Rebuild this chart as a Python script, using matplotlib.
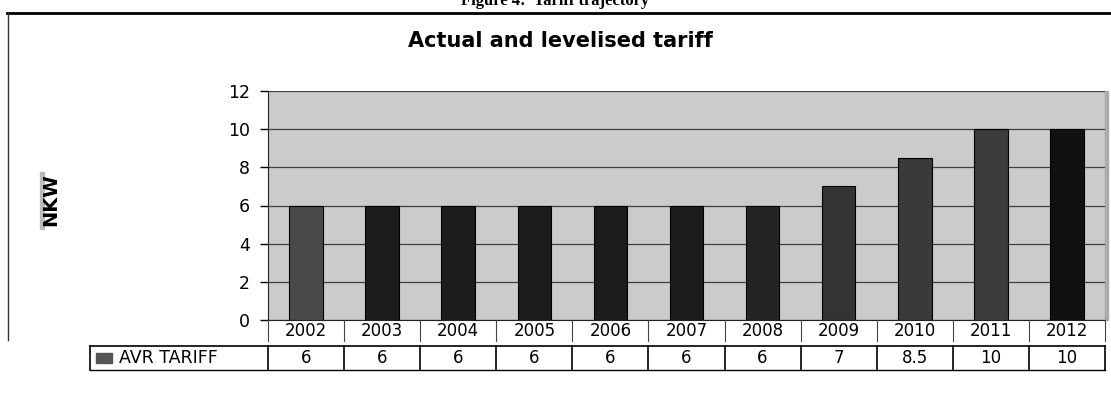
import matplotlib.pyplot as plt
from matplotlib.lines import Line2D
from matplotlib.patches import Rectangle

# dati del grafico
years = ["2002", "2003", "2004", "2005", "2006", "2007", "2008", "2009", "2010", "2011", "2012"]
tariff = [6, 6, 6, 6, 6, 6, 6, 7, 8.5, 10, 10]
table_labels = ["6", "6", "6", "6", "6", "6", "6", "7", "8.5", "10", "10"]
series_name = "AVR TARIFF"
yticks = [0, 2, 4, 6, 8, 10, 12]

bar_colors = ["#4a4a4a", "#1c1c1c", "#1c1c1c", "#1c1c1c", "#1c1c1c", "#1c1c1c",
              "#242424", "#333333", "#3a3a3a", "#3c3c3c", "#111111"]

W, H = 1111, 408
plt.rcParams['font.family'] = ['DejaVu Sans']
fig = plt.figure(figsize=(W / 100, H / 100), dpi=100)

def fx(px):
    return px / W

def fy(py):
    return 1 - py / H

# cornice esterna
fig.add_artist(Line2D([fx(7), fx(1111)], [fy(13), fy(13)], color="black", lw=2.0))
fig.add_artist(Line2D([fx(8), fx(8)], [fy(13), fy(340)], color="#333333", lw=1.0))

# intestazione tagliata in alto
fig.text(0.5, fy(1), "Figure 4:  Tariff trajectory", ha="center", va="center",
         fontsize=12, fontweight="bold", family="Liberation Serif")

fig.text(fx(560), fy(41), "Actual and levelised tariff", ha="center", va="center",
         fontsize=15, fontweight="bold")

# area del grafico
left, right, top, bottom = 268, 1105, 91, 320
ax = fig.add_axes([fx(left), fy(bottom), fx(right - left), (bottom - top) / H])
ax.set_facecolor("#cbcbcb")
x = list(range(len(years)))
ax.bar(x, tariff, width=0.44, color=bar_colors, edgecolor="black", linewidth=0.8, zorder=3)
ax.set_xlim(-0.5, len(years) - 0.5)
ax.set_ylim(0, 12)
ax.set_yticks(yticks)
ax.tick_params(axis="y", direction="out", length=6, width=1, labelsize=12.5, pad=7)
ax.set_xticks([])
ax.grid(axis="y", color="#404040", linewidth=0.9, zorder=1)
for s in ["top", "right"]:
    ax.spines[s].set_visible(False)
ax.spines["left"].set_color("#222222")
ax.spines["bottom"].set_color("#222222")
ax.add_patch(Rectangle((1.0, 0), 0.004, 1, transform=ax.transAxes, color="#aaaaaa",
                       clip_on=False))

# etichetta asse y
fig.add_artist(Rectangle((fx(40), fy(229)), fx(4), 57 / H, color="#bbbbbb"))
fig.text(fx(51), fy(200), "NKW", rotation=90, ha="center", va="center",
         fontsize=14, fontweight="bold")

# riga degli anni e tabella dati
colw = (right - left) / len(years)
for i, y in enumerate(years):
    xc = left + (i + 0.5) * colw
    fig.text(fx(xc), fy(331), y, ha="center", va="center", fontsize=12)
    fig.text(fx(xc), fy(358), table_labels[i], ha="center", va="center", fontsize=12)
for i in range(len(years) + 1):
    xb = left + i * colw
    fig.add_artist(Line2D([fx(xb), fx(xb)], [fy(320), fy(341)], color="#444444", lw=0.8))
    fig.add_artist(Line2D([fx(xb), fx(xb)], [fy(346), fy(370)], color="black", lw=1.2))
fig.add_artist(Line2D([fx(90), fx(90)], [fy(346), fy(370)], color="black", lw=1.2))
fig.add_artist(Line2D([fx(90), fx(right)], [fy(346), fy(346)], color="black", lw=1.2))
fig.add_artist(Line2D([fx(90), fx(right)], [fy(370), fy(370)], color="black", lw=1.0))
fig.add_artist(Rectangle((fx(96), fy(363)), fx(16), 10 / H, color="#555555"))
fig.text(fx(119), fy(358), series_name, ha="left", va="center", fontsize=12.5)

fig.savefig("out.png", dpi=100)
